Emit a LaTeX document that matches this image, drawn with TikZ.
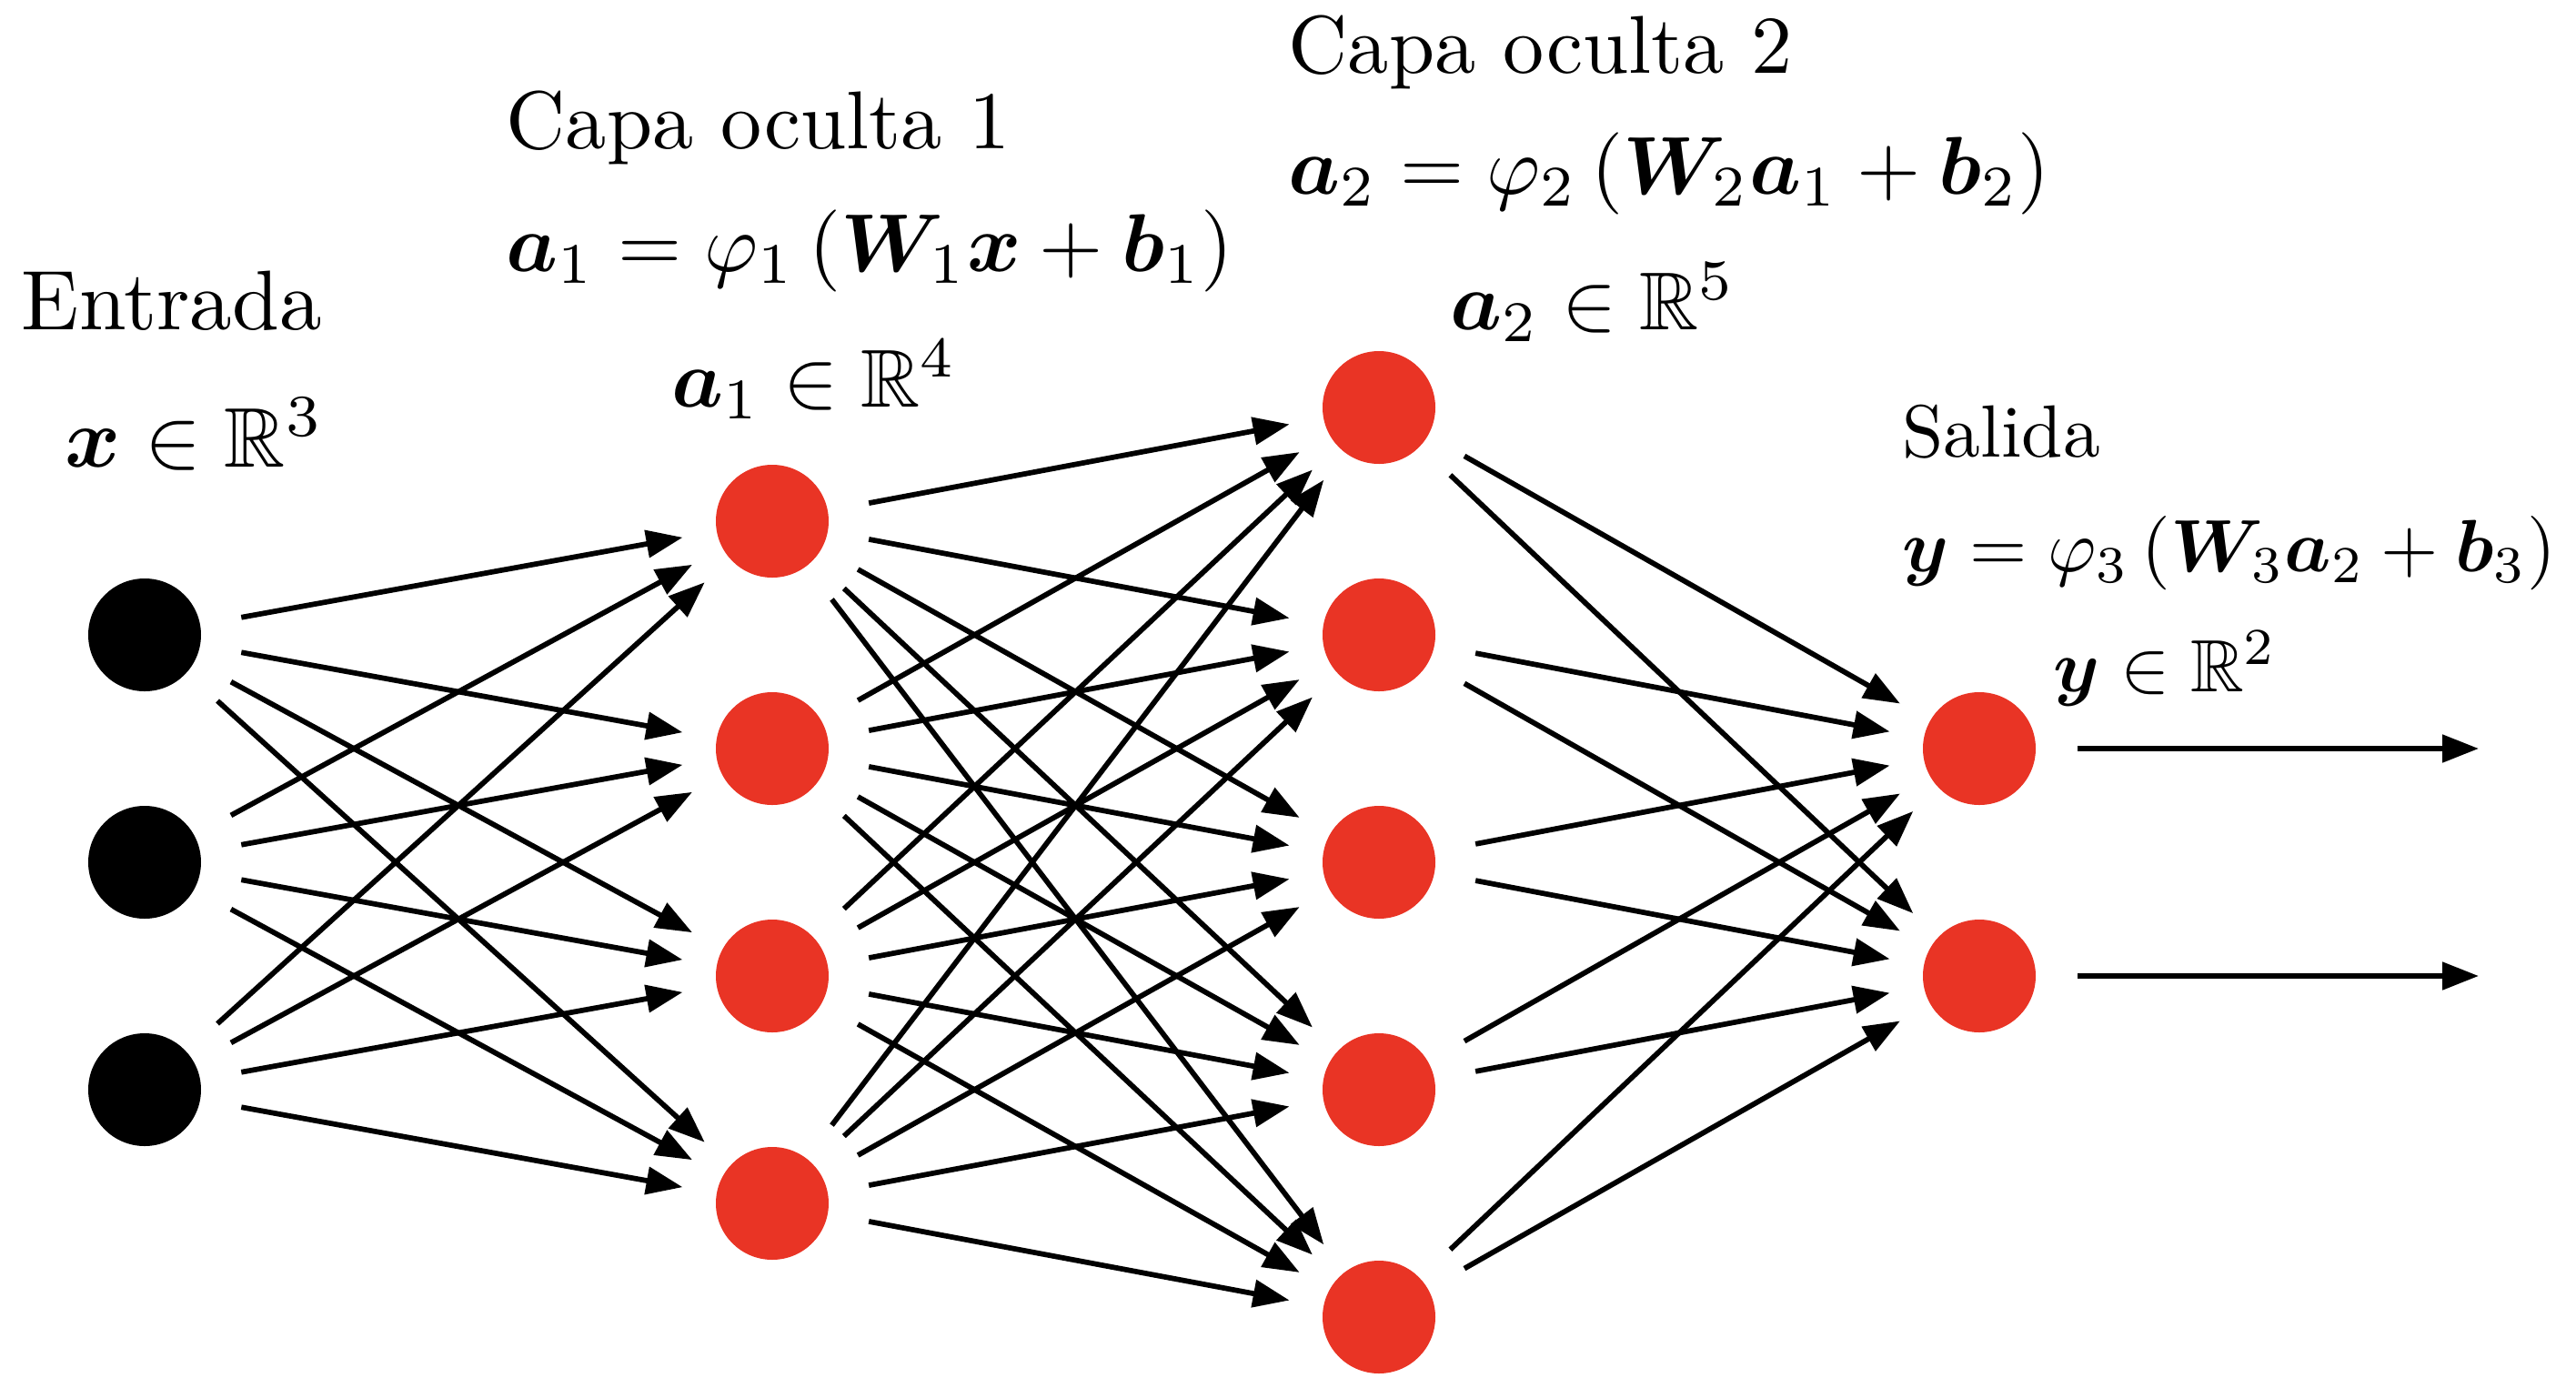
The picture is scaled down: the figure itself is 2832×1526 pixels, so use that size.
\documentclass[tikz,border=0pt]{standalone}
\usepackage{amsmath,amssymb}
\usepackage{bm}
\usepackage{xcolor}
\usepackage{tikz}
\usetikzlibrary{arrows.meta,calc}
\definecolor{neurored}{RGB}{233,52,37}
\tikzset{
    >={Triangle[length=4.3pt,width=3.2pt]},
    neurona/.style={
        circle,
        minimum size=13.33pt,
        inner sep=0pt,
        outer sep=0pt
    },
    entrada/.style={neurona, fill=black},
    oculta/.style={neurona, fill=neurored},
    conexion/.style={->, line width=0.62pt, shorten <=4.95pt, shorten >=4.1pt},
    salidaflecha/.style={->, line width=0.62pt, shorten <=4.95pt},
    etiqueta/.style={anchor=base west, inner sep=0pt},
    etiquetaoculta/.style={etiqueta, scale=0.97, transform shape},
    etiquetasalida/.style={etiqueta, scale=0.875, transform shape},
}

\begin{document}
\begin{tikzpicture}[x=0.1075pt,y=-0.1075pt]
\useasboundingbox (0,0) rectangle (2832,1526);
% capas de neuronas
\foreach \i in {1,2,3}
    \node[entrada] (x\i) at (159,{698+250*(\i-1)}) {};
\foreach \i in {1,...,4}
    \node[oculta] (h\i) at (849,{573+250*(\i-1)}) {};
\foreach \i in {1,...,5}
    \node[oculta] (g\i) at (1516,{448+250*(\i-1)}) {};
\foreach \i in {1,2}
    \node[oculta] (y\i) at (2176,{823+250*(\i-1)}) {};
% conexiones
\foreach \i in {1,2,3}
    \foreach \j in {1,...,4}
        \draw[conexion] (x\i) -- (h\j);
\foreach \i in {1,...,4}
    \foreach \j in {1,...,5}
        \draw[conexion] (h\i) -- (g\j);
\foreach \i in {1,...,5}
    \foreach \j in {1,2}
        \draw[conexion] (g\i) -- (y\j);
\foreach \i in {1,2} {
    \coordinate (fin\i) at (2725,{823+250*(\i-1)});
    \draw[salidaflecha] (y\i) -- (fin\i);
}
% textos
\node[etiqueta] (tin) at (22,362) {Entrada};
\node[etiqueta] (din) at (70,513) {$\bm{x}\in\mathbb{R}^3$};
\node[etiquetaoculta] (th1) at (555,163) {Capa oculta 1};
\node[etiquetaoculta] (fh1) at (555,298) {$\bm{a}_1=\varphi_1\left(\bm{W}_1\bm{x}+\bm{b}_1\right)$};
\node[etiquetaoculta] (dh1) at (737,447) {$\bm{a}_1\in\mathbb{R}^4$};
\node[etiquetaoculta] (th2) at (1415,80) {Capa oculta 2};
\node[etiquetaoculta] (fh2) at (1415,213) {$\bm{a}_2=\varphi_2\left(\bm{W}_2\bm{a}_1+\bm{b}_2\right)$};
\node[etiquetaoculta] (dh2) at (1593,362) {$\bm{a}_2\in\mathbb{R}^5$};
\node[etiquetasalida] (tout) at (2090,502) {Salida};
\node[etiquetasalida] (fout) at (2090,628) {$\bm{y}=\varphi_3\left(\bm{W}_3\bm{a}_2+\bm{b}_3\right)$};
\node[etiquetasalida] (dout) at (2256,760) {$\bm{y}\in\mathbb{R}^2$};
\end{tikzpicture}
\end{document}
